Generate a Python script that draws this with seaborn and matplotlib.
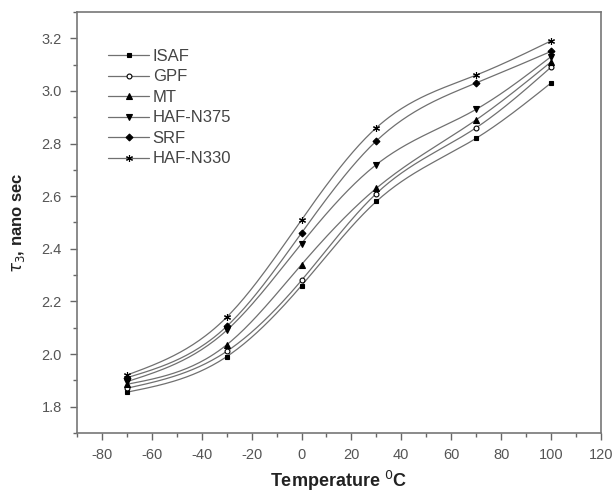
import numpy as np
import pandas as pd
import seaborn as sns
import matplotlib.pyplot as plt
from matplotlib.lines import Line2D

temps = [-70, -30, 0, 30, 70, 100]
isaf = [1.855, 1.99, 2.26, 2.58, 2.82, 3.03]
gpf = [1.87, 2.01, 2.28, 2.61, 2.86, 3.09]
mt = [1.885, 2.035, 2.34, 2.63, 2.89, 3.11]
haf_n375 = [1.895, 2.09, 2.42, 2.72, 2.93, 3.13]
srf = [1.91, 2.105, 2.46, 2.81, 3.03, 3.15]
haf_n330 = [1.92, 2.14, 2.51, 2.86, 3.06, 3.19]

names = ["ISAF", "GPF", "MT", "HAF-N375", "SRF", "HAF-N330"]
series = [isaf, gpf, mt, haf_n375, srf, haf_n330]
markers = ["s", "o", "^", "v", "D", (6, 2, 0)]
faces = ["black", "white", "black", "black", "black", "black"]
sizes = [3, 3.5, 4, 4, 3.5, 5]


def smooth(x, y, n=200):
    # natural cubic spline through the points, for the drawn curve only
    x = np.asarray(x, float)
    y = np.asarray(y, float)
    k = len(x)
    h = np.diff(x)
    A = np.zeros((k, k))
    b = np.zeros(k)
    A[0, 0] = A[-1, -1] = 1
    for i in range(1, k - 1):
        A[i, i - 1] = h[i - 1]
        A[i, i] = 2 * (h[i - 1] + h[i])
        A[i, i + 1] = h[i]
        b[i] = 6 * ((y[i + 1] - y[i]) / h[i] - (y[i] - y[i - 1]) / h[i - 1])
    m = np.linalg.solve(A, b)
    xs = np.linspace(x[0], x[-1], n)
    j = np.clip(np.searchsorted(x, xs) - 1, 0, k - 2)
    t = xs - x[j]
    hj = h[j]
    ys = (m[j] * (x[j + 1] - xs) ** 3 / (6 * hj) + m[j + 1] * t ** 3 / (6 * hj)
          + (y[j] / hj - m[j] * hj / 6) * (x[j + 1] - xs)
          + (y[j + 1] / hj - m[j + 1] * hj / 6) * t)
    return xs, ys


sns.set_theme(style="white")
plt.rcParams["font.family"] = ["Liberation Sans", "DejaVu Sans"]
plt.rcParams["axes.unicode_minus"] = False

fig = plt.figure(figsize=(6.15, 4.99), dpi=100)
ax = fig.add_axes([0.1252, 0.1323, 0.8518, 0.8437])

line_col = "#707070"
handles = []
for name, vals, mk, fc, ms in zip(names, series, markers, faces, sizes):
    xs, ys = smooth(temps, vals)
    curve = pd.DataFrame({"x": xs, "y": ys})
    sns.lineplot(data=curve, x="x", y="y", color=line_col, lw=0.9,
                 estimator=None, sort=False, ax=ax)
    ax.plot(temps, vals, linestyle="none", marker=mk, markersize=ms,
            markerfacecolor=fc, markeredgecolor="black", markeredgewidth=0.8,
            zorder=3)
    handles.append(Line2D([], [], color=line_col, lw=0.9, marker=mk,
                          markersize=ms, markerfacecolor=fc,
                          markeredgecolor="black", markeredgewidth=0.8))

ax.set_xlim(-90, 120)
ax.set_ylim(1.7, 3.3)
ax.set_xticks(np.arange(-80, 121, 20))
ax.set_xticks(np.arange(-90, 121, 10), minor=True)
ax.set_yticks(np.arange(1.8, 3.21, 0.2))
ax.set_yticks(np.arange(1.7, 3.31, 0.1), minor=True)
ax.set_yticklabels([f"{v:.1f}" for v in np.arange(1.8, 3.21, 0.2)])

for s in ax.spines.values():
    s.set_color("#777777")
    s.set_linewidth(1.2)
ax.tick_params(which="both", direction="out", left=True, bottom=True,
               colors="#666666", labelcolor="#555555", labelsize=10.5)
ax.tick_params(which="major", length=5, width=1.0, pad=6)
ax.tick_params(which="minor", length=3, width=1.0)

ax.set_xlabel("Temperature $^0$C", fontsize=13, fontweight="bold",
              color="#222222", labelpad=5)
ax.set_ylabel(r"$\tau_3$, nano sec", fontsize=12, fontweight="bold",
              color="#222222", labelpad=10)

ax.legend(handles, names, loc="upper left", bbox_to_anchor=(0.03, 0.948),
          frameon=False, fontsize=12, handlelength=2.5, handletextpad=0.2,
          labelspacing=0.33, labelcolor="#444444")

fig.savefig("out.png", dpi=100)
